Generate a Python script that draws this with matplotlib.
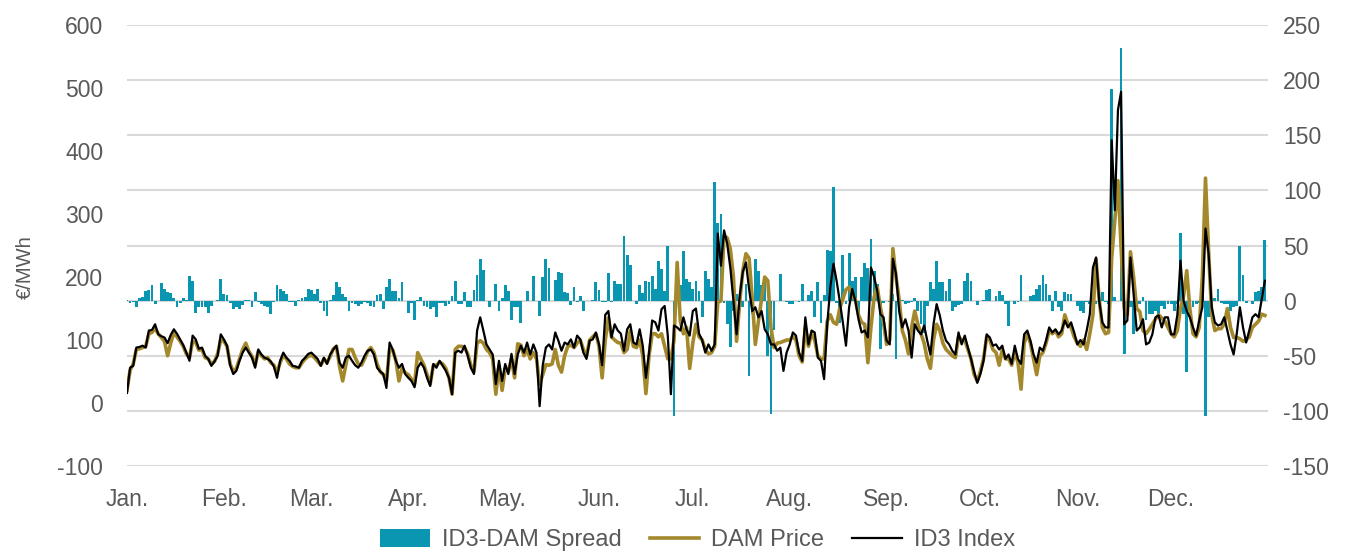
import numpy as np
import matplotlib.pyplot as plt
from matplotlib.patches import Patch
from matplotlib.lines import Line2D

plt.rcParams["font.family"] = ["Liberation Sans", "DejaVu Sans"]
plt.rcParams["axes.unicode_minus"] = False

months = ["Jan.", "Feb.", "Mar.", "Apr.", "May.", "Jun.",
          "Jul.", "Aug.", "Sep.", "Oct.", "Nov.", "Dec."]
month_start = [0, 31, 59, 90, 120, 151, 181, 212, 243, 273, 304, 334]

# ID3 index, €/MWh (daily)
id3 = [
    16, 56, 59, 88, 89, 91, 88, 115, 116, 125, 109, 106, 104, 95, 108, 117, 110, 101, 92, 80, 67, 107, 101, 86, 88, 75, 70, 59, 66, 75, 109,
    101, 91, 60, 46, 51, 67, 80, 88, 80, 72, 56, 85, 77, 72, 70, 66, 58, 40, 67, 80, 72, 67, 59, 58, 56, 67, 72, 78,
    80, 75, 70, 59, 72, 62, 77, 85, 91, 64, 56, 72, 75, 67, 60, 56, 64, 75, 83, 85, 77, 56, 50, 46, 24, 96, 85, 67, 56, 62, 46,
    40, 35, 25, 56, 64, 56, 40, 27, 62, 56, 67, 59, 51, 40, 14, 80, 83, 80, 91, 75, 56, 46, 115, 136, 115, 93, 85, 77, 30, 67,
    35, 62, 46, 78, 46, 77, 91, 80, 96, 77, 93, 80, -5, 60, 88, 93, 85, 112, 99, 83, 96, 93, 101, 88, 107, 101, 80, 70, 99, 101, 112,
    93, 60, 140, 146, 104, 125, 115, 110, 83, 117, 125, 96, 93, 117, 91, 40, 80, 131, 128, 115, 149, 154, 107, 14, 123, 120, 115, 136, 117, 107,
    146, 150, 110, 100, 80, 93, 83, 93, 269, 218, 274, 253, 215, 162, 109, 170, 208, 223, 181, 146, 152, 136, 146, 117, 109, 93, 93, 83, 88, 51, 80,
    93, 112, 107, 80, 67, 136, 93, 115, 112, 72, 67, 38, 125, 184, 221, 194, 162, 128, 91, 152, 181, 162, 133, 112, 115, 104, 215, 200, 178, 141, 136,
    99, 93, 229, 205, 146, 120, 133, 115, 72, 125, 115, 109, 123, 99, 77, 125, 157, 139, 115, 99, 93, 83, 77, 112, 93, 107, 88, 70, 50, 32,
    46, 67, 109, 104, 91, 93, 85, 91, 70, 77, 62, 91, 70, 62, 109, 115, 99, 77, 64, 88, 83, 99, 120, 112, 117, 109, 115, 131, 120, 128, 112,
    93, 100, 93, 115, 141, 215, 231, 162, 128, 120, 120, 417, 306, 465, 494, 125, 131, 231, 173, 115, 120, 133, 93, 96, 109, 136, 139, 120, 136, 136,
    109, 109, 140, 226, 162, 146, 136, 120, 107, 131, 152, 277, 237, 152, 128, 123, 125, 136, 115, 93, 77, 110, 152, 120, 96, 115, 136, 141, 136, 165, 194,
]

# Day-ahead price, €/MWh
dam = [
    20, 52, 62, 85, 86, 88, 90, 110, 112, 118, 110, 104, 98, 75, 95, 112, 105, 98, 90, 78, 72, 98, 96, 84, 85, 72, 70, 62, 66, 78, 100,
    98, 90, 62, 50, 55, 70, 85, 95, 82, 74, 60, 82, 75, 70, 72, 64, 60, 48, 64, 76, 70, 62, 58, 56, 56, 64, 70, 74,
    76, 72, 66, 60, 70, 64, 74, 86, 90, 58, 35, 60, 85, 85, 72, 62, 60, 70, 82, 88, 80, 62, 50, 45, 35, 85, 84, 68, 35, 55, 48,
    45, 38, 30, 80, 70, 60, 45, 30, 60, 60, 65, 62, 55, 40, 14, 85, 90, 90, 88, 78, 60, 50, 95, 99, 95, 85, 80, 70, 14, 60,
    20, 55, 50, 70, 40, 94, 92, 75, 85, 70, 80, 70, 30, 45, 61, 60, 62, 85, 60, 49, 75, 90, 92, 88, 95, 100, 85, 75, 100, 105, 110,
    90, 40, 100, 135, 105, 100, 96, 95, 80, 85, 115, 90, 88, 100, 75, 15, 75, 110, 110, 105, 110, 90, 70, 70, 100, 223, 130, 110, 120, 55,
    95, 125, 105, 100, 85, 78, 80, 90, 160, 162, 266, 262, 245, 200, 98, 160, 210, 237, 230, 167, 93, 130, 165, 200, 194, 120, 88, 95, 96, 98, 100,
    100, 105, 100, 75, 65, 120, 90, 110, 100, 75, 70, 70, 130, 140, 128, 125, 150, 165, 180, 184, 170, 164, 140, 128, 125, 64, 121, 168, 184, 152, 128,
    93, 100, 245, 200, 165, 115, 100, 78, 120, 146, 125, 110, 95, 70, 55, 100, 125, 115, 95, 85, 80, 75, 72, 105, 100, 100, 85, 70, 45, 35,
    50, 70, 105, 100, 85, 80, 60, 85, 70, 70, 60, 80, 65, 22, 95, 110, 95, 70, 45, 75, 80, 95, 115, 110, 115, 105, 110, 140, 125, 120, 105,
    95, 90, 100, 85, 110, 140, 228, 165, 120, 110, 112, 230, 290, 353, 247, 150, 140, 240, 200, 150, 145, 115, 110, 117, 125, 133, 140, 135, 130, 120,
    110, 105, 115, 150, 170, 210, 150, 110, 105, 120, 200, 357, 240, 140, 115, 118, 118, 125, 150, 120, 104, 104, 102, 98, 100, 105, 120, 125, 130, 141, 139,
]

# ID3-DAM spread, right axis
spread = [
    1, -2, -1, -6, 2, 3, 9, 10, 14, -3, 0, 16, 11, 8, 7, 2, -6, -2, 2, 1, 22, 18, -11, -6, -6, -6, -11, -5, 0, 1, 20,
    6, 5, -2, -8, -6, -8, -4, 1, 1, -6, 8, -1, -3, -5, -6, -12, -1, 14, 11, 9, 6, -1, -1, -5, 1, 2, 3, 11,
    10, 6, 11, -2, -9, -14, 1, 5, 17, 12, 6, 3, -9, -2, -3, -5, -3, -1, -2, -5, -6, 5, 6, -8, 12, 20, 9, 9, 2, 17, 0,
    -11, -2, -18, 1, 3, -5, -6, -8, -6, -15, -2, -2, -5, -3, 4, 18, -3, -3, 8, -6, -6, 10, 23, 38, 28, 0, -6, 0, 15, -9,
    2, 14, 9, -18, -6, -6, -20, 0, 9, 0, 22, 0, -14, 21, 38, 30, 0, 19, 26, 25, 8, 7, -4, 12, -1, 4, -9, 0, 0, 1, 17,
    10, -1, -1, 25, -1, 18, 15, 15, 59, 41, 32, 0, -3, 14, 7, 18, 17, 22, 11, 36, 29, 9, 50, 0, -105, 0, 14, 45, 20, 17,
    11, 18, 9, -15, 27, 20, 12, 108, 70, 79, -2, -21, -42, -9, 6, 2, -6, 15, -68, -12, 38, 27, 14, 21, -50, -103, -27, 0, 24, 0, -1,
    -3, -3, 0, -1, 15, 0, 5, 9, -15, 17, -20, 5, 46, 45, 103, -2, -20, 41, -3, 43, 18, 21, -15, 21, 34, 30, 56, 27, 15, -44, -2,
    0, -1, 6, -53, -3, 1, -3, -2, -1, 2, -9, -21, -29, -5, 17, 11, 36, 17, 17, 9, 20, -9, -6, -4, -3, 18, 25, 18, 0, -4,
    0, 1, 10, 11, 0, 4, 9, 5, -3, -23, 0, -3, -1, 23, 0, 0, 4, 5, 11, 14, 23, 15, 5, -9, 9, -6, -9, 8, 6, 6, 0,
    -5, -9, -11, -1, -3, -1, -3, -3, 8, -1, -3, 192, 3, 0, 229, -48, -3, -6, -30, -6, -3, 3, -18, -12, -12, -9, -14, -5, -8, -3,
    -3, -9, -3, 61, -12, -65, -9, -6, -3, -2, 17, -105, -15, -9, 2, 11, -2, -3, -3, -9, -6, -5, 50, 23, -2, 0, -3, 8, 9, 12, 55,
]

teal = "#0A96B0"
gold = "#A4882C"
text_gray = "#595959"
grid_gray = "#D9D9D9"

days = np.arange(len(id3))

fig = plt.figure(figsize=(13.55, 5.54), dpi=100)
ax = fig.add_axes([0.0937, 0.1588, 0.8421, 0.7961])
ax2 = ax.twinx()

# spread bars on the right axis, behind the price lines
ax2.bar(days, spread, width=0.9, color=teal, linewidth=0)
ax2.set_ylim(-150, 250)
ax2.set_yticks(np.arange(-150, 251, 50))
ax2.grid(True, axis="y", color=grid_gray, linewidth=1.5)
ax2.set_axisbelow(True)

ax.plot(days, dam, color=gold, linewidth=2.6, solid_joinstyle="round")
ax.plot(days, id3, color="black", linewidth=1.6, solid_joinstyle="round")
ax.set_ylim(-100, 600)
ax.set_yticks(np.arange(-100, 601, 100))
ax.set_zorder(ax2.get_zorder() + 1)
ax.patch.set_visible(False)

ax.set_xlim(0, 365)
ax.set_xticks(month_start)
ax.set_xticklabels(months)

for a in (ax, ax2):
    for s in a.spines.values():
        s.set_visible(False)
    a.tick_params(length=0, labelsize=16.5, labelcolor=text_gray)
ax.tick_params(axis="x", pad=16)
ax.tick_params(axis="y", pad=17)
ax2.tick_params(axis="y", pad=11)

ax.set_ylabel("€/MWh", fontsize=14.5, color=text_gray)
ax.yaxis.set_label_coords(-0.081, 0.45)

handles = [
    Patch(facecolor=teal, edgecolor="none"),
    Line2D([], [], color=gold, linewidth=2.6),
    Line2D([], [], color="black", linewidth=1.6),
]
labels = ["ID3-DAM Spread", "DAM Price", "ID3 Index"]
leg = ax.legend(handles, labels, loc="center", bbox_to_anchor=(0.5, -0.168),
                ncol=3, frameon=False, fontsize=17, handlelength=2.1,
                handleheight=0.8, columnspacing=1.2, handletextpad=0.5)
for t in leg.get_texts():
    t.set_color(text_gray)

fig.savefig("out.png", dpi=100)
